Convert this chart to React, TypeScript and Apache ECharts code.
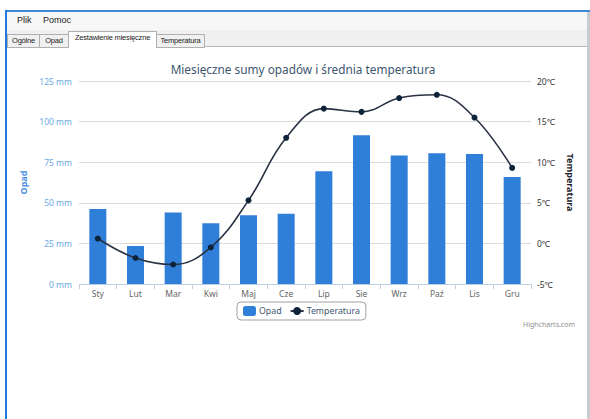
import React, { useEffect, useRef } from "react";
import * as echarts from "echarts";

const months = ["Sty", "Lut", "Mar", "Kwi", "Maj", "Cze", "Lip", "Sie", "Wrz", "Paź", "Lis", "Gru"];
const opad = [46.2, 23.4, 44.1, 37.4, 42.3, 43.3, 69.4, 91.6, 79.2, 80.5, 80.0, 65.9];
const temperatura = [0.6, -1.8, -2.6, -0.5, 5.3, 13.0, 16.6, 16.2, 17.9, 18.3, 15.5, 9.3];
const menuItems = ["Plik", "Pomoc"];
const tabs = ["Ogólne", "Opad", "Zestawienie miesięczne", "Temperatura"];

const FONT = "'Noto Sans', 'DejaVu Sans', sans-serif";

export default function App() {
  const ref = useRef<HTMLDivElement>(null);

  useEffect(() => {
    if (!ref.current) return;
    const chart = echarts.init(ref.current, undefined, { renderer: "svg" });
    chart.setOption({
      animation: false,
      backgroundColor: "transparent",
      textStyle: { fontFamily: FONT },
      title: {
        text: "Miesięczne sumy opadów i średnia temperatura",
        left: 298,
        textAlign: "center",
        top: 58,
        textStyle: { color: "#3e576f", fontSize: 11.8, fontWeight: "normal", fontFamily: FONT },
      },
      legend: {
        data: ["Opad", "Temperatura"],
        left: 237,
        top: 302,
        borderColor: "#a0a0a0",
        borderWidth: 1,
        borderRadius: 4,
        padding: [4, 6],
        itemGap: 8,
        itemWidth: 13,
        itemHeight: 10,
        textStyle: { color: "#3e576f", fontSize: 8.8, fontFamily: FONT, padding: [0, 0, 0, -2] },
      },
      grid: { left: 79, right: 59, top: 81, bottom: 135, containLabel: false },
      xAxis: {
        type: "category",
        data: months,
        axisLine: { lineStyle: { color: "#c0d0e0" } },
        axisTick: { show: true, alignWithLabel: false, length: 5, lineStyle: { color: "#c0d0e0" } },
        axisLabel: { color: "#666", fontSize: 8.5, margin: 5, fontFamily: FONT },
      },
      yAxis: [
        {
          type: "value",
          min: 0,
          max: 125,
          interval: 25,
          name: "Opad",
          nameLocation: "middle",
          nameGap: 40,
          nameTextStyle: { color: "#4a90e2", fontWeight: "bold", fontSize: 9, fontFamily: FONT },
          axisLabel: { formatter: "{value} mm", color: "#6aa6e6", fontSize: 8.5, margin: 7, fontFamily: FONT },
          splitLine: { lineStyle: { color: "#dcdcdc" } },
          axisLine: { show: false },
          axisTick: { show: false },
        },
        {
          type: "value",
          min: -5,
          max: 20,
          interval: 5,
          position: "right",
          name: "Temperatura",
          nameLocation: "middle",
          nameRotate: -90,
          nameGap: 32,
          nameTextStyle: { color: "#1a1a2a", fontWeight: "bold", fontSize: 9, fontFamily: FONT },
          axisLabel: { formatter: "{value}℃", color: "#333", fontSize: 8.5, margin: 6, fontFamily: FONT },
          splitLine: { show: false },
          axisLine: { show: false },
          axisTick: { show: false },
        },
      ],
      series: [
        {
          name: "Opad",
          type: "bar",
          data: opad,
          yAxisIndex: 0,
          barWidth: 17,
          itemStyle: { color: "#2f7ed8" },
        },
        {
          name: "Temperatura",
          type: "line",
          data: temperatura,
          yAxisIndex: 1,
          smooth: 0.4,
          symbol: "circle",
          symbolSize: 6,
          lineStyle: { color: "#2a3344", width: 1.6 },
          itemStyle: { color: "#0d233a" },
        },
      ],
      graphic: [
        {
          type: "text",
          right: 15,
          top: 321,
          style: { text: "Highcharts.com", fill: "#909090", fontSize: 7, fontFamily: FONT },
        },
      ],
    });
    return () => chart.dispose();
  }, []);

  const tabStyle = (i: number): React.CSSProperties => {
    const sel = i === 2;
    const lefts = [7, 39, 68, 156];
    const widths = [32, 29, 88, 48];
    return {
      position: "absolute",
      left: lefts[i],
      top: sel ? 31 : 34,
      width: widths[i] - 1,
      height: sel ? 15 : 12,
      border: "1px solid #b0b0b0",
      borderBottom: sel ? "none" : "1px solid #b0b0b0",
      background: sel ? "#fff" : "#f0f0f0",
      fontSize: 7.5,
      letterSpacing: -0.2,
      lineHeight: sel ? "12px" : "11px",
      textAlign: "center",
      color: "#222",
      fontFamily: "'Liberation Sans', Arial, sans-serif",
      boxSizing: "content-box",
      whiteSpace: "nowrap",
      overflow: "hidden",
      zIndex: sel ? 2 : 1,
    };
  };

  return (
    <div style={{ position: "fixed", left: 0, top: 0, width: 590, height: 419, background: "#fff", overflow: "hidden" }}>
      <div style={{ position: "absolute", left: 5, top: 10, width: 585, height: 2, background: "#3d8ad6" }} />
      <div style={{ position: "absolute", left: 7, top: 12, width: 580, height: 18, background: "#f7f7f8" }} />
      {menuItems.map((m, i) => (
        <div
          key={m}
          style={{
            position: "absolute",
            left: i === 0 ? 17 : 43,
            top: 15,
            fontSize: 9,
            color: "#222",
            fontFamily: "'Liberation Sans', Arial, sans-serif",
          }}
        >
          {m}
        </div>
      ))}
      <div style={{ position: "absolute", left: 7, top: 30, width: 580, height: 16, background: "#f0f0f0" }} />
      <div style={{ position: "absolute", left: 7, top: 46, width: 580, height: 1, background: "#b8b8b8" }} />
      {tabs.map((t, i) => (
        <div key={t} style={tabStyle(i)}>
          {t}
        </div>
      ))}
      <div style={{ position: "absolute", left: 5, top: 10, width: 2, height: 409, background: "#1f7ad8" }} />
      <div style={{ position: "absolute", left: 587, top: 12, width: 3, height: 407, background: "#c6ccd2" }} />
      <div ref={ref} style={{ position: "absolute", left: 0, top: 0, width: 590, height: 419 }} />
    </div>
  );
}
